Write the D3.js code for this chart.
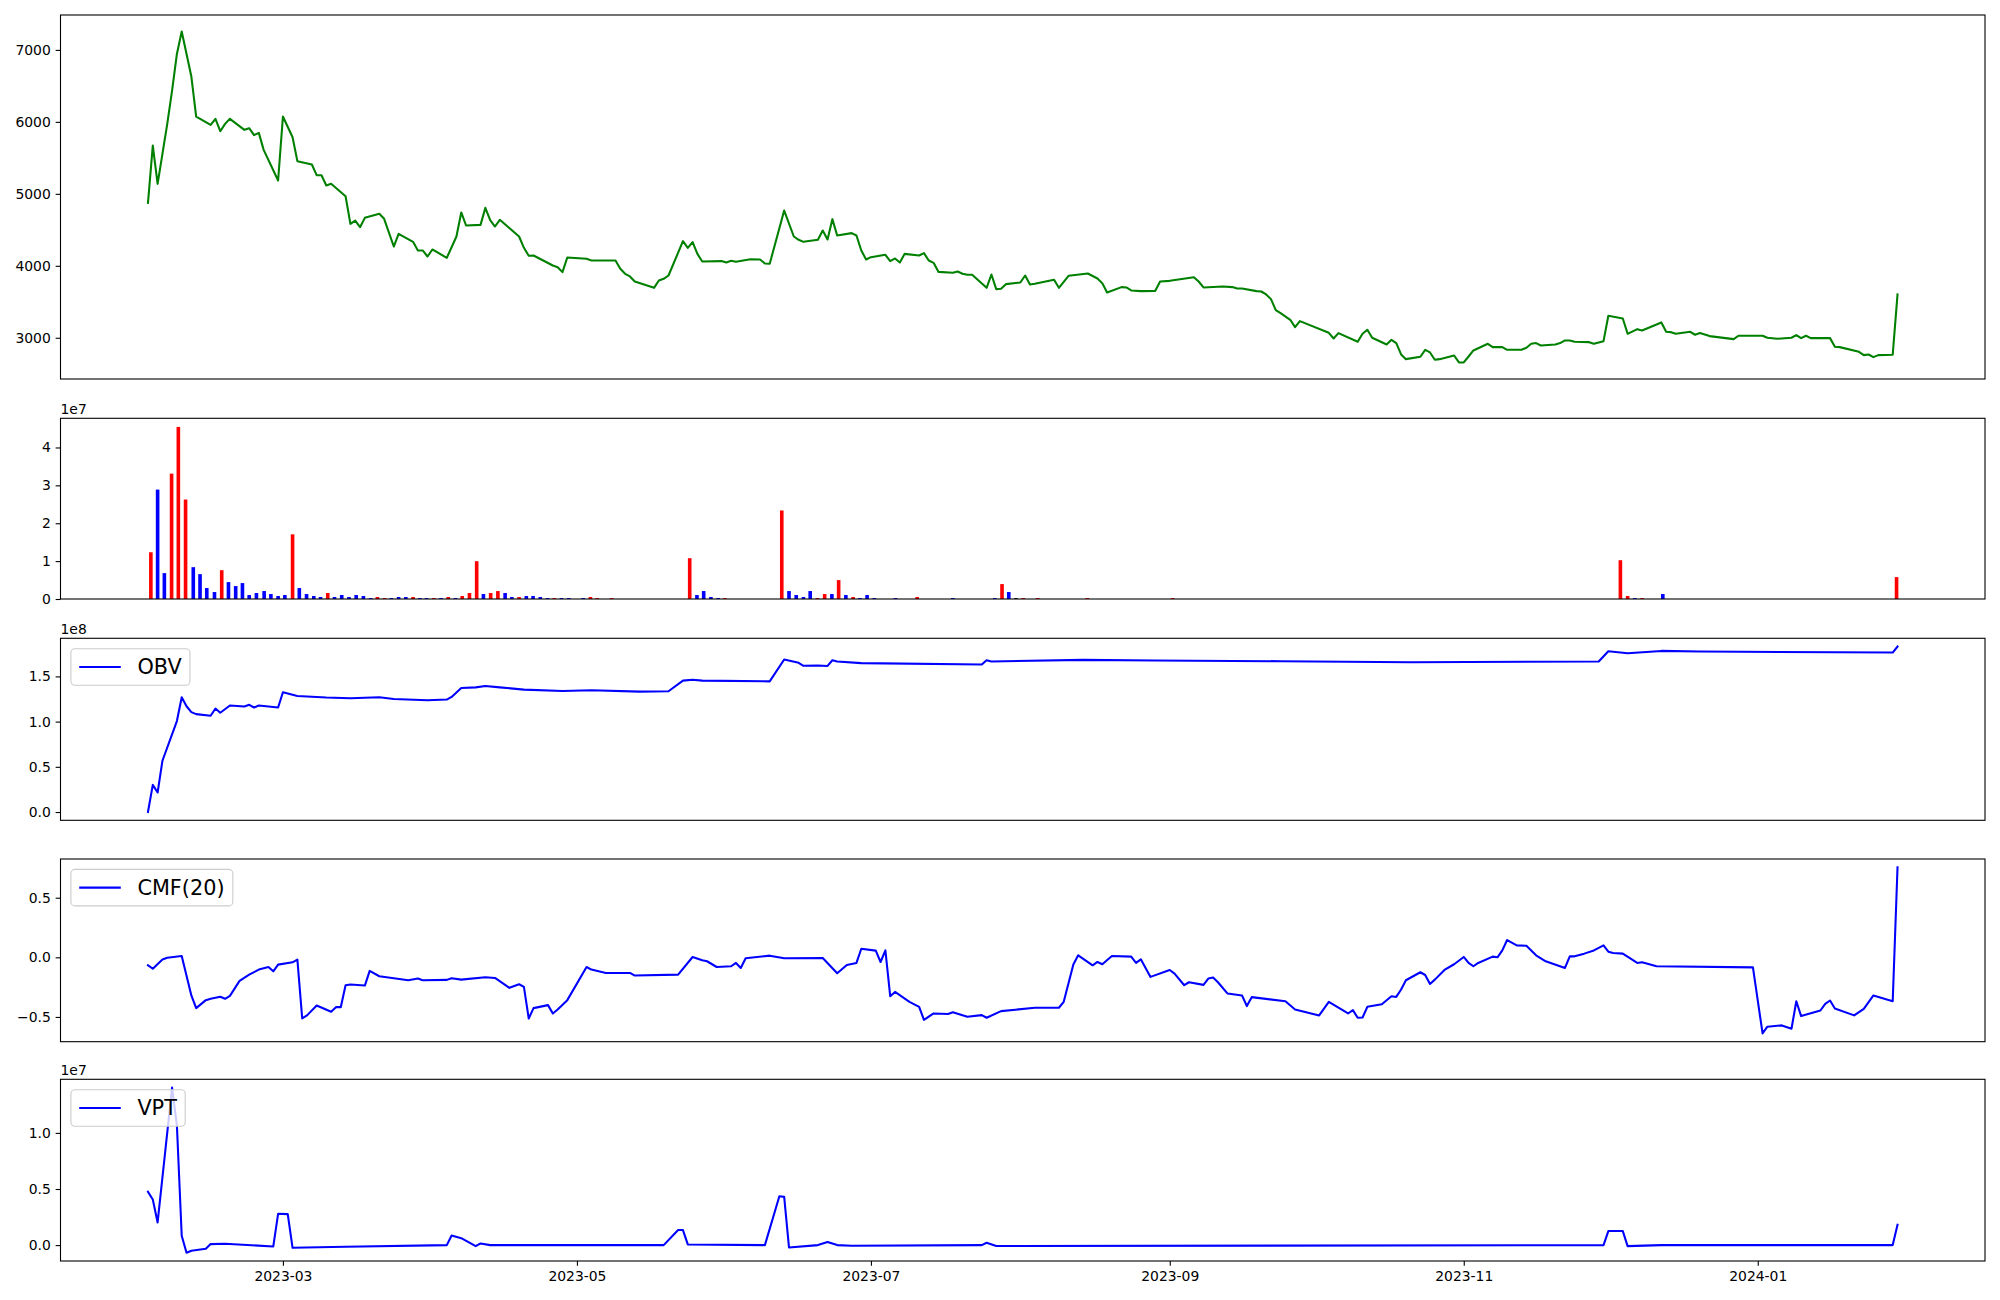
<!DOCTYPE html>
<html><head><meta charset="utf-8">
<script src="https://cdn.jsdelivr.net/npm/d3@7"></script>
<style>body{margin:0;background:#fff} svg text{font-family:"DejaVu Sans",sans-serif;fill:#000}</style>
</head><body>
<svg id="c" width="2000" height="1300"></svg>
<script>
// ---------- DATA (day offsets from 2023-02-01) ----------
const baseDate = "2023-02-01";
const xTickLabels = ["2023-03","2023-05","2023-07","2023-09","2023-11","2024-01"];

const priceDay = [0,1,2,3,4,5,6,7,8,9,10,13,14,15,16,17,20,21,22,23,24,27,28,30,31,34,35,36,37,38,41,42,43,44,45,48,49,51,52,55,56,57,58,59,62,64,65,66,69,70,71,72,73,77,78,79,80,84,85,86,87,91,92,97,98,99,100,101,105,106,107,108,111,112,113,114,115,119,120,121,122,125,127,128,129,132,134,135,136,139,140,141,142,143,146,147,148,149,150,153,154,155,156,157,160,161,162,163,164,167,168,169,170,171,174,175,176,177,178,181,182,183,184,188,189,191,195,197,198,199,202,203,204,206,209,210,212,217,218,219,223,225,226,227,230,231,232,233,234,235,237,238,239,245,246,247,251,252,253,254,257,258,259,260,261,264,265,266,267,268,271,272,273,274,275,278,279,281,282,285,286,287,288,289,292,293,294,295,296,299,300,302,303,306,307,309,310,313,314,315,316,317,320,321,322,324,329,330,335,336,338,341,342,343,344,345,349,350,351,355,356,357,358,359,362,363];
const priceClose = [4875,5671,5139,5556,5972,6435,6944,7255,6944,6630,6074,5958,6042,5870,5972,6042,5889,5912,5815,5847,5611,5185,6074,5787,5454,5407,5259,5259,5116,5139,4967,4583,4629,4537,4666,4722,4653,4268,4444,4333,4213,4213,4129,4227,4111,4407,4741,4560,4569,4805,4634,4546,4639,4407,4250,4139,4143,4004,3981,3912,4115,4097,4074,4074,3958,3889,3852,3782,3694,3796,3819,3865,4342,4250,4329,4166,4060,4065,4046,4069,4055,4092,4088,4032,4028,4768,4407,4361,4333,4361,4491,4366,4648,4421,4454,4421,4213,4088,4120,4153,4065,4102,4046,4166,4143,4176,4074,4041,3916,3903,3921,3889,3875,3875,3694,3879,3676,3680,3745,3768,3865,3740,3750,3805,3694,3861,3893,3824,3759,3629,3704,3699,3657,3648,3652,3782,3791,3842,3782,3699,3713,3704,3685,3685,3648,3643,3602,3537,3384,3342,3250,3148,3231,3069,2990,3065,2944,3055,3111,3000,2907,2972,2926,2768,2703,2736,2833,2796,2694,2703,2754,2657,2657,2740,2824,2916,2870,2870,2833,2833,2861,2916,2926,2893,2907,2926,2963,2963,2944,2939,2916,2953,3305,3268,3055,3120,3101,3185,3213,3083,3078,3055,3083,3042,3065,3023,2981,3028,3028,3000,2986,3000,3037,2995,3028,2995,2995,2875,2870,2805,2759,2768,2731,2759,2764,3602];

const volDay = [0.6,2.0,3.4,4.9,6.3,7.8,9.4,10.8,12.2,13.8,15.3,16.7,18.2,19.6,21.0,22.5,24.1,25.5,27.0,28.4,30.0,31.4,32.9,34.4,35.8,37.3,38.7,40.2,41.7,43.2,44.7,46.2,47.6,49.1,50.5,52.0,53.5,55.0,56.4,57.8,59.3,60.8,62.3,63.8,65.2,66.7,68.2,69.6,71.1,72.6,74.1,75.5,77.0,78.5,79.9,81.4,82.9,84.3,85.8,87.3,90.3,91.8,93.2,96.2,112.4,113.9,115.3,116.8,118.3,119.7,131.5,133.0,134.5,136.0,137.4,138.9,140.4,141.9,143.3,144.8,146.3,147.7,149.2,150.7,155.1,159.6,167.0,175.7,177.2,178.6,180.1,181.6,184.6,194.9,212.6,305.5,307.0,308.5,310.0,314.3,362.8];
const volValue = [1.234e7,2.888e7,0.683e7,3.309e7,4.543e7,2.626e7,0.840e7,0.656e7,0.289e7,0.184e7,0.761e7,0.446e7,0.341e7,0.420e7,0.105e7,0.158e7,0.210e7,0.131e7,0.079e7,0.105e7,1.707e7,0.289e7,0.131e7,0.079e7,0.053e7,0.158e7,0.053e7,0.105e7,0.053e7,0.105e7,0.079e7,0.026e7,0.053e7,0.026e7,0.026e7,0.053e7,0.053e7,0.053e7,0.026e7,0.026e7,0.026e7,0.026e7,0.053e7,0.026e7,0.079e7,0.158e7,0.998e7,0.131e7,0.158e7,0.210e7,0.158e7,0.053e7,0.053e7,0.079e7,0.079e7,0.053e7,0.026e7,0.026e7,0.026e7,0.026e7,0.026e7,0.053e7,0.026e7,0.026e7,1.077e7,0.105e7,0.210e7,0.053e7,0.026e7,0.026e7,2.337e7,0.210e7,0.105e7,0.053e7,0.210e7,0.026e7,0.131e7,0.131e7,0.499e7,0.105e7,0.053e7,0.026e7,0.105e7,0.026e7,0.026e7,0.053e7,0.026e7,0.026e7,0.394e7,0.184e7,0.026e7,0.026e7,0.026e7,0.026e7,0.026e7,1.024e7,0.079e7,0.026e7,0.026e7,0.131e7,0.578e7];
const volDir = ["up","down","down","up","up","up","down","down","down","down","up","down","down","down","down","down","down","down","down","down","up","down","down","down","down","up","down","down","down","down","down","down","up","up","down","down","down","up","down","down","up","down","up","down","up","up","up","down","up","up","down","down","up","down","down","down","down","up","down","down","down","up","up","up","up","down","down","down","down","up","up","down","down","down","down","up","up","down","up","down","up","down","down","down","down","up","down","down","up","down","flat","up","up","up","up","up","up","down","up","down","up"];

const obvDay = [0,1,2,3,6,7,8,9,10,13,14,15,17,20,21,22,23,27,28,31,37,42,48,51,58,62,63,65,68,70,73,78,86,92,102,108,111,113,115,129,132,135,136,139,141,142,143,148,173,174,175,194,209,235,262,301,303,307,314,322,362,363];
const obvValue = [0,0.30e8,0.216e8,0.567e8,1.006e8,1.27e8,1.17e8,1.105e8,1.083e8,1.065e8,1.145e8,1.098e8,1.178e8,1.167e8,1.186e8,1.156e8,1.178e8,1.156e8,1.325e8,1.284e8,1.266e8,1.259e8,1.27e8,1.251e8,1.237e8,1.244e8,1.273e8,1.372e8,1.379e8,1.394e8,1.379e8,1.354e8,1.339e8,1.347e8,1.332e8,1.336e8,1.453e8,1.464e8,1.453e8,1.445e8,1.687e8,1.65e8,1.617e8,1.621e8,1.616e8,1.679e8,1.665e8,1.647e8,1.632e8,1.679e8,1.665e8,1.683e8,1.676e8,1.668e8,1.657e8,1.665e8,1.778e8,1.756e8,1.782e8,1.775e8,1.764e8,1.83e8];

const cmfDay = [0,1,3,4,7,9,10,12,13,15,16,17,19,21,23,25,26,27,30,31,32,33,35,38,39,40,41,42,45,46,48,54,56,57,62,63,65,70,72,75,77,78,79,80,83,84,85,87,91,92,95,100,101,110,113,115,116,118,121,122,123,124,129,132,140,143,145,147,148,151,152,153,154,155,158,160,161,163,166,167,170,173,174,177,184,189,190,192,193,196,197,198,200,204,205,206,208,212,213,215,216,219,220,221,222,224,227,228,229,236,238,243,245,249,250,251,252,253,256,258,259,260,261,264,265,266,267,269,271,273,274,275,276,279,280,281,282,284,286,288,290,294,295,296,298,300,302,303,304,306,309,310,313,333,335,336,339,341,342,343,347,348,349,350,354,356,358,362,363];
const cmfValue = [-0.067,-0.095,-0.019,-0.003,0.011,-0.32,-0.426,-0.359,-0.348,-0.331,-0.348,-0.323,-0.198,-0.145,-0.103,-0.081,-0.117,-0.061,-0.042,-0.019,-0.513,-0.487,-0.404,-0.457,-0.418,-0.418,-0.234,-0.228,-0.237,-0.114,-0.159,-0.192,-0.178,-0.192,-0.189,-0.175,-0.187,-0.167,-0.173,-0.256,-0.226,-0.248,-0.513,-0.426,-0.401,-0.471,-0.437,-0.359,-0.081,-0.103,-0.131,-0.131,-0.153,-0.145,0.003,-0.025,-0.033,-0.081,-0.075,-0.047,-0.089,-0.008,0.014,-0.008,-0.006,-0.134,-0.064,-0.047,0.072,0.056,-0.039,0.058,-0.326,-0.29,-0.373,-0.415,-0.524,-0.471,-0.476,-0.46,-0.499,-0.485,-0.507,-0.451,-0.423,-0.423,-0.373,-0.061,0.017,-0.067,-0.039,-0.058,0.011,0.006,-0.047,-0.017,-0.164,-0.106,-0.136,-0.234,-0.209,-0.231,-0.178,-0.17,-0.209,-0.304,-0.32,-0.409,-0.334,-0.368,-0.437,-0.487,-0.373,-0.471,-0.443,-0.507,-0.505,-0.415,-0.393,-0.326,-0.332,-0.27,-0.192,-0.125,-0.148,-0.223,-0.187,-0.106,-0.058,0.003,-0.047,-0.075,-0.047,0.006,0.0,0.058,0.145,0.1,0.097,0.017,-0.033,-0.089,0.008,0.008,0.031,0.058,0.1,0.047,0.036,0.031,-0.047,-0.042,-0.075,-0.084,-0.638,-0.582,-0.571,-0.599,-0.368,-0.493,-0.446,-0.39,-0.362,-0.429,-0.487,-0.432,-0.32,-0.368,0.755];

const vptDay = [0,1,2,5,6,7,8,9,12,13,16,26,27,29,30,41,62,63,65,68,69,71,107,110,111,112,128,131,132,133,139,141,143,146,173,174,176,302,303,306,307,314,362,363];
const vptValue = [0.475e7,0.407e7,0.202e7,1.404e7,1.068e7,0.083e7,-0.068e7,-0.05e7,-0.033e7,0.009e7,0.012e7,-0.012e7,0.279e7,0.276e7,-0.024e7,-0.015e7,0.0,0.086e7,0.062e7,-0.009e7,0.015e7,0.0,0.0,0.134e7,0.134e7,0.006e7,0.0,0.436e7,0.43e7,-0.021e7,0.0,0.027e7,0.0,-0.005e7,0.0,0.021e7,-0.008e7,0.0,0.125e7,0.125e7,-0.009e7,0.0,0.0,0.181e7];

// ---------- LAYOUT ----------
const svg = d3.select("#c");
const X0 = 60.5, X1 = 1985;
const P = [{t:15,b:379},{t:418.3,b:599},{t:638.3,b:820.3},{t:859,b:1041.7},{t:1079.3,b:1261}];
const FS = 13.9, LFS = 20.8;
const base = Date.parse(baseDate + "T00:00:00Z");
const toDate = d => new Date(base + d * 864e5);

const dMin = d3.min(priceDay), dMax = d3.max(priceDay), span = dMax - dMin;
const x = d3.scaleUtc().domain([toDate(dMin - 0.05*span), toDate(dMax + 0.05*span)]).range([X0, X1]);

function padDomain(vals){ const [a,b]=d3.extent(vals); const r=b-a; return [a-0.05*r, b+0.05*r]; }

function yAxis(p, y, ticks, fmt, offset){
  const g = svg.append("g").attr("transform",`translate(${X0},0)`);
  g.call(d3.axisLeft(y).tickValues(ticks).tickFormat(fmt).tickSize(4.86).tickPadding(4.86).tickSizeOuter(0));
  g.select(".domain").remove();
  g.selectAll(".tick line").attr("stroke","#000").attr("stroke-width",1.1);
  g.selectAll(".tick text").attr("font-size",FS).attr("font-family","DejaVu Sans").attr("fill","#000");
  if(offset) svg.append("text").attr("x",X0).attr("y",p.t-4.5).attr("font-size",FS).text(offset);
}
function frame(p){
  svg.append("rect").attr("x",X0).attr("y",p.t).attr("width",X1-X0).attr("height",p.b-p.t)
    .attr("fill","none").attr("stroke","#000").attr("stroke-width",1.1);
}
function xTicks(p){
  const g = svg.append("g").attr("transform",`translate(0,${p.b})`);
  const tv = xTickLabels.map(s => new Date(Date.parse(s+"-01T00:00:00Z")));
  g.call(d3.axisBottom(x).tickValues(tv).tickFormat(d3.utcFormat("%Y-%m")).tickSize(4.86).tickPadding(4.86).tickSizeOuter(0));
  g.select(".domain").remove();
  g.selectAll(".tick line").attr("stroke","#000").attr("stroke-width",1.1);
  g.selectAll(".tick text").attr("font-size",FS).attr("font-family","DejaVu Sans").attr("fill","#000");
}
function legend(p, label){
  const pad = 8.3, hl = 41.6, htp = 16.6;
  const tmp = svg.append("text").attr("font-size",LFS).text(label);
  const tw = tmp.node().getComputedTextLength(); tmp.remove();
  const bx = X0 + 10.4, by = p.t + 10.4, bw = pad*2 + hl + htp + tw, bh = 36.5;
  svg.append("rect").attr("x",bx).attr("y",by).attr("width",bw).attr("height",bh).attr("rx",4).attr("ry",4)
    .attr("fill","#fff").attr("fill-opacity",0.8).attr("stroke","#cccccc").attr("stroke-width",1.1);
  const cy = by + bh/2;
  svg.append("line").attr("x1",bx+pad).attr("x2",bx+pad+hl).attr("y1",cy).attr("y2",cy).attr("stroke","#0000ff").attr("stroke-width",2.08);
  svg.append("text").attr("x",bx+pad+hl+htp).attr("y",cy).attr("dy","0.36em").attr("font-size",LFS).text(label);
}
function clip(id,p){
  svg.append("clipPath").attr("id",id).append("rect").attr("x",X0).attr("y",p.t).attr("width",X1-X0).attr("height",p.b-p.t);
}
function lineSeries(p, days, vals, y, color, id){
  clip(id,p);
  const pts = days.map((d,i)=>[x(toDate(d)), y(vals[i])]);
  svg.append("path").attr("clip-path",`url(#${id})`).attr("d", d3.line()(pts))
    .attr("fill","none").attr("stroke",color).attr("stroke-width",2.08).attr("stroke-linejoin","round").attr("stroke-linecap","square");
}
const fmt1 = d => (d<0?"\u2212":"") + Math.abs(d).toFixed(1);

// Panel 1: price
{
  const p=P[0];
  const y=d3.scaleLinear().domain(padDomain(priceClose)).range([p.b,p.t]);
  lineSeries(p, priceDay, priceClose, y, "#008000", "c1");
  yAxis(p, y, [3000,4000,5000,6000,7000], d=>String(d));
  frame(p);
}
// Panel 2: volume
{
  const p=P[1];
  const y=d3.scaleLinear().domain([0, d3.max(volValue)*1.05]).range([p.b,p.t]);
  const bw = x(toDate(0.75)) - x(toDate(0));
  const col = {up:"#ff0000", down:"#0000ff", flat:"#000000"};
  svg.append("g").selectAll("rect").data(volDay).join("rect")
    .attr("x",(d)=>x(toDate(d))-bw/2).attr("width",bw)
    .attr("y",(d,i)=>y(volValue[i])).attr("height",(d,i)=>y(0)-y(volValue[i]))
    .attr("fill",(d,i)=>col[volDir[i]]);
  yAxis(p, y, [0,1e7,2e7,3e7,4e7], d=>String(d/1e7), "1e7");
  frame(p);
}
// Panel 3: OBV
{
  const p=P[2];
  const y=d3.scaleLinear().domain(padDomain(obvValue)).range([p.b,p.t]);
  lineSeries(p, obvDay, obvValue, y, "#0000ff", "c3");
  yAxis(p, y, [0,0.5e8,1e8,1.5e8], d=>fmt1(d/1e8), "1e8");
  frame(p); legend(p,"OBV");
}
// Panel 4: CMF
{
  const p=P[3];
  const y=d3.scaleLinear().domain(padDomain(cmfValue)).range([p.b,p.t]);
  lineSeries(p, cmfDay, cmfValue, y, "#0000ff", "c4");
  yAxis(p, y, [-0.5,0,0.5], fmt1);
  frame(p); legend(p,"CMF(20)");
}
// Panel 5: VPT
{
  const p=P[4];
  const y=d3.scaleLinear().domain(padDomain(vptValue)).range([p.b,p.t]);
  lineSeries(p, vptDay, vptValue, y, "#0000ff", "c5");
  yAxis(p, y, [0,0.5e7,1e7], d=>fmt1(d/1e7), "1e7");
  xTicks(p); frame(p); legend(p,"VPT");
}
</script>
</body></html>
